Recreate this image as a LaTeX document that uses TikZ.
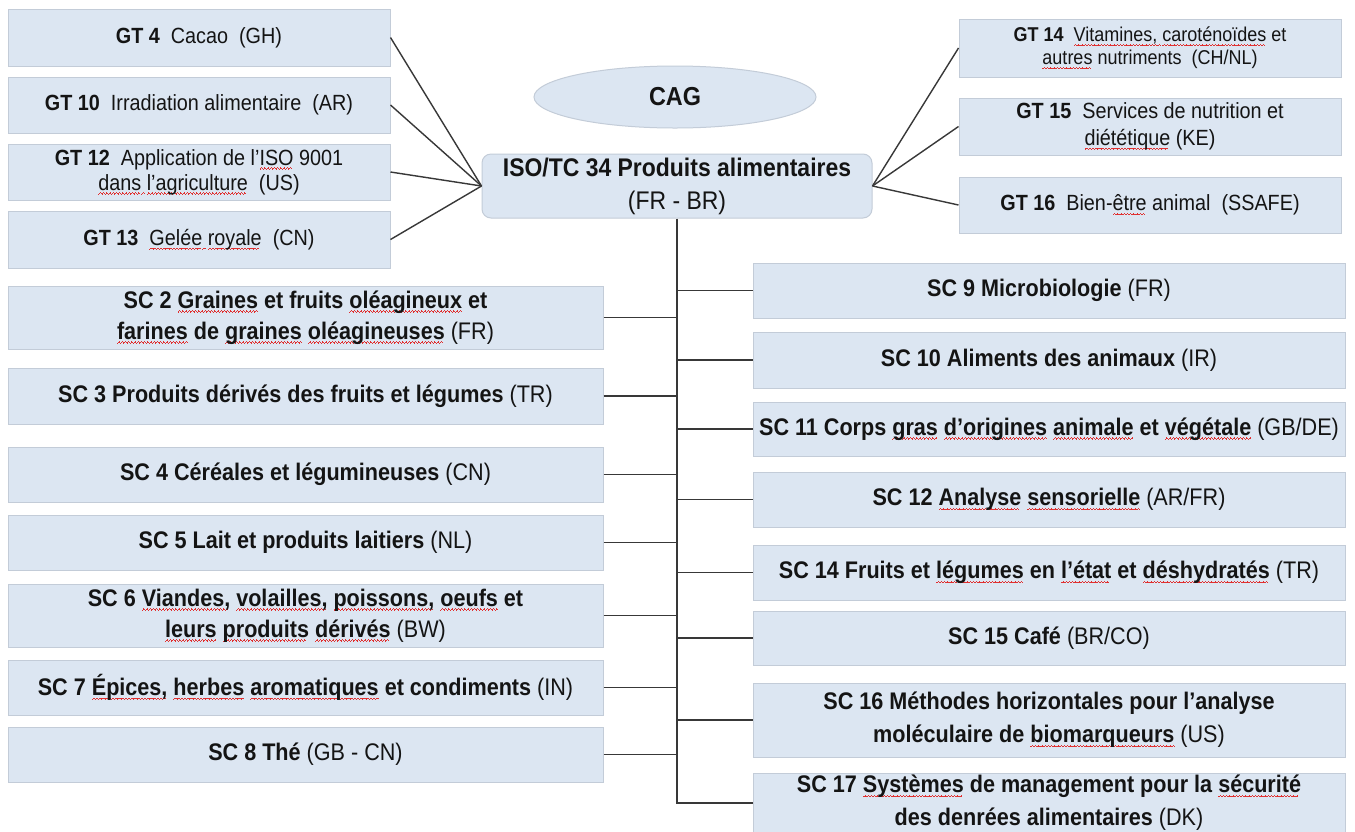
\documentclass[tikz,border=0pt]{standalone}
\usepackage{fontspec}
\setmainfont{Liberation Sans}[FakeStretch=0.9]
\usetikzlibrary{shapes.geometric}
\definecolor{boxfill}{HTML}{DCE6F2}
\definecolor{boxline}{HTML}{C3CCD8}
\definecolor{linec}{HTML}{383838}
\definecolor{spell}{HTML}{E03030}
\definecolor{txt}{HTML}{141414}
\newsavebox\rwbox
\newcommand\wavebit{\hbox{\rule[-4.2pt]{0.8pt}{0.8pt}\rule[-3.6pt]{0.8pt}{0.8pt}\rule[-3.0pt]{0.8pt}{0.8pt}\rule[-3.6pt]{0.8pt}{0.8pt}}}
\newcommand\rw[1]{\sbox\rwbox{#1}\rlap{\textcolor{spell}{\hbox to \wd\rwbox{\leaders\wavebit\hfill}}}\usebox\rwbox}
\tikzset{
  box/.style={draw=boxline, fill=boxfill, line width=1pt, inner sep=0pt, align=center, text=txt},
  gtbox/.style={box, minimum width=382pt, font=\fontsize{22}{27}\selectfont},
  sclbox/.style={box, minimum width=595pt, font=\fontsize{24}{31}\selectfont},
  scrbox/.style={box, minimum width=592pt, font=\fontsize{24}{31}\selectfont},
  conn/.style={draw=linec, line width=1.4pt},
}
\begin{document}
\begin{tikzpicture}[x=1pt,y=-1pt]
\useasboundingbox (0,0) rectangle (1355,831);
\fill[white] (0,0) rectangle (1355,831);
% left GT
\node[gtbox, minimum height=57pt] (gt4) at (199,37.5) {\textbf{GT 4}~~Cacao~~(GH)};
\node[gtbox, minimum height=56pt] (gt10) at (199,105) {\textbf{GT 10}~~Irradiation alimentaire~~(AR)};
\node[gtbox, minimum height=56pt, font=\fontsize{22}{25}\selectfont] (gt12) at (199,172) {\textbf{GT 12}~~Application de l’\rw{ISO} 9001\\\rw{dans}\rw{~}\rw{l’agriculture}~~(US)};
\node[gtbox, minimum height=57pt] (gt13) at (199,239.5) {\textbf{GT 13}~~\rw{Gelée}\rw{~}\rw{royale}~~(CN)};
% centre
\node[draw=boxline, fill=boxfill, line width=1pt, ellipse, minimum width=282pt, minimum height=62pt, inner sep=0pt, font=\fontsize{26}{30}\selectfont\bfseries, text=txt] (cag) at (675,97) {CAG};
\node[box, rounded corners=9pt, minimum width=390pt, minimum height=64pt, font=\fontsize{25.5}{33}\selectfont] (iso) at (677,186) {\textbf{ISO/TC 34 Produits alimentaires}\\(FR - BR)};
% right GT
\node[gtbox, minimum height=58pt, font=\fontsize{20}{23}\selectfont] (gt14) at (1150,48) {\textbf{GT 14}~~\rw{Vitamines,}\rw{~}\rw{caroténoïdes} et\\\rw{autres} nutriments~~(CH/NL)};
\node[gtbox, minimum height=57pt] (gt15) at (1150,126.5) {\textbf{GT 15}~~Services de nutrition et\\\rw{diététique} (KE)};
\node[gtbox, minimum height=56pt] (gt16) at (1150,205) {\textbf{GT 16}~~Bien-\rw{être} animal~~(SSAFE)};
% left SC
\node[sclbox, minimum height=63pt] (sc2) at (305.5,317.5) {\textbf{SC 2 \rw{Graines} et fruits \rw{oléagineux} et}\\\textbf{\rw{farines} de \rw{graines} \rw{oléagineuses}} (FR)};
\node[sclbox, minimum height=56pt] (sc3) at (305.5,396) {\textbf{SC 3 Produits dérivés des fruits et légumes} (TR)};
\node[sclbox, minimum height=55pt] (sc4) at (305.5,474.5) {\textbf{SC 4 Céréales et légumineuses} (CN)};
\node[sclbox, minimum height=55pt] (sc5) at (305.5,542.5) {\textbf{SC 5 Lait et produits laitiers} (NL)};
\node[sclbox, minimum height=63pt] (sc6) at (305.5,615.5) {\textbf{SC 6 \rw{Viandes,} \rw{volailles,} \rw{poissons,} \rw{oeufs} et}\\\textbf{\rw{leurs} \rw{produits} \rw{dérivés}} (BW)};
\node[sclbox, minimum height=55pt] (sc7) at (305.5,687.5) {\textbf{SC 7 \rw{Épices,} \rw{herbes} \rw{aromatiques} et condiments} (IN)};
\node[sclbox, minimum height=55pt] (sc8) at (305.5,754.5) {\textbf{SC 8 Thé} (GB - CN)};
% right SC
\node[scrbox, minimum height=55pt] (sc9) at (1049,290.5) {\textbf{SC 9 Microbiologie} (FR)};
\node[scrbox, minimum height=56pt] (sc10) at (1049,360) {\textbf{SC 10 Aliments des animaux} (IR)};
\node[scrbox, minimum height=54pt] (sc11) at (1049,429) {\textbf{SC 11 Corps \rw{gras} \rw{d’origines} \rw{animale} et \rw{végétale}} (GB/DE)};
\node[scrbox, minimum height=55pt] (sc12) at (1049,499.5) {\textbf{SC 12 \rw{Analyse} \rw{sensorielle}} (AR/FR)};
\node[scrbox, minimum height=55pt] (sc14) at (1049,572.5) {\textbf{SC 14 Fruits et \rw{légumes} en \rw{l’état} et \rw{déshydratés}} (TR)};
\node[scrbox, minimum height=54pt] (sc15) at (1049,638) {\textbf{SC 15 Café} (BR/CO)};
\node[scrbox, minimum height=74pt, font=\fontsize{24}{33}\selectfont] (sc16) at (1049,720) {\textbf{SC 16 Méthodes horizontales pour l’analyse}\\\textbf{moléculaire de \rw{biomarqueurs}} (US)};
\node[scrbox, minimum height=60pt, font=\fontsize{24}{33}\selectfont] (sc17) at (1049,803) {\textbf{SC 17 \rw{Systèmes} de management pour la \rw{sécurité}}\\\textbf{des denrées alimentaires} (DK)};
% connectors
\foreach \n in {gt4,gt10,gt12,gt13} \draw[conn] (\n.east) -- (iso.west);
\foreach \n in {gt14,gt15,gt16} \draw[conn] (iso.east) -- (\n.west);
\draw[conn] (iso.south) -- (iso.south |- sc17.west) -- (sc17.west);
\foreach \n in {sc2,sc3,sc4,sc5,sc6,sc7,sc8} \draw[conn] (\n.east) -- (\n.east -| iso.south);
\foreach \n in {sc9,sc10,sc11,sc12,sc14,sc15,sc16} \draw[conn] (iso.south |- \n.west) -- (\n.west);
\end{tikzpicture}
\end{document}
